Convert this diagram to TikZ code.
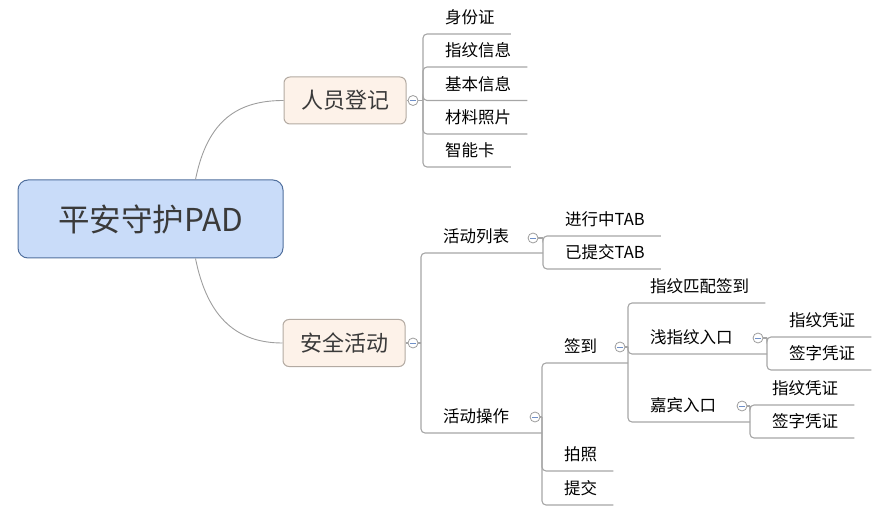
\documentclass[tikz,border=0pt]{standalone}
\usepackage{fontspec}
\setmainfont{Noto Sans CJK SC}
\definecolor{rootfill}{HTML}{C9DCF9}
\definecolor{rootdraw}{HTML}{51709E}
\definecolor{roottext}{HTML}{3A3A3A}
\definecolor{subfill}{HTML}{FDF2E9}
\definecolor{subdraw}{HTML}{B3AAA2}
\definecolor{linegray}{HTML}{A6A6A6}
\definecolor{curvegray}{HTML}{9E9E9E}
\definecolor{circgray}{HTML}{9C9C9C}
\definecolor{minusblue}{HTML}{7090C8}
\begin{document}
\begin{tikzpicture}[
  x=1pt, y=-1pt,
  tline/.style={draw=linegray, line width=1.1pt, rounded corners=4pt},
  curveline/.style={draw=curvegray, line width=0.9pt},
  leaf/.style={anchor=south west, inner xsep=0pt, inner ysep=0pt,
    minimum height=30pt, text height=13pt, text depth=3pt,
    font=\fontsize{16.5}{16.5}\selectfont, text=black,
    execute at begin node={\hspace*{22pt}},
    execute at end node={\hspace*{16pt}}},
  mainbox/.style={draw=rootdraw, fill=rootfill, line width=1pt,
    rounded corners=10pt, minimum width=265pt, minimum height=78pt,
    font=\fontsize{31.5}{31.5}\selectfont, text=roottext},
  subbox/.style={draw=subdraw, fill=subfill, line width=1pt,
    rounded corners=6pt, minimum width=122pt, minimum height=47pt,
    font=\fontsize{22}{22}\selectfont, text=roottext},
  coll/.style={circle, draw=circgray, fill=white, line width=0.8pt,
    minimum size=10pt, inner sep=0pt,
    path picture={\draw[minusblue, line width=0.8pt]
      ([xshift=-2.6pt]path picture bounding box.center) --
      ([xshift=2.6pt]path picture bounding box.center);}}
]
\useasboundingbox (0,0) rectangle (883,510);

% main nodes
\node[mainbox] (root) at (150.5,219) {平安守护PAD};
\node[subbox] (ry) at (345,100.5) {人员登记};
\node[subbox] (aq) at (344,343) {安全活动};

\draw[curveline] ([xshift=45pt]root.north) .. controls +(12,-60) and +(-45,0) .. (ry.west);
\draw[curveline] ([xshift=45pt]root.south) .. controls +(12,60) and +(-45,0) .. (aq.west);

% collapse buttons
\node[coll] (k1) at (413,100.5) {};
\node[coll] (k2) at (413,343) {};
\node[coll] (k3) at (533,238) {};
\node[coll] (k4) at (535,417) {};
\node[coll] (k5) at (620,347) {};
\node[coll] (k6) at (758,338) {};
\node[coll] (k7) at (742,406) {};

% junctions
\coordinate (j1) at (423,100.5);
\coordinate (j2) at (421,343);
\coordinate (j3) at (543,238);
\coordinate (j4) at (542,417);
\coordinate (j5) at (628,347);
\coordinate (j6) at (767,338);
\coordinate (j7) at (750,406);

% 人员登记 children
\node[leaf] (a1) at (423,34) {身份证};
\node[leaf] (a2) at (423,67) {指纹信息};
\node[leaf] (a3) at (423,100.5) {基本信息};
\node[leaf] (a4) at (423,134) {材料照片};
\node[leaf] (a5) at (423,167) {智能卡};

% 安全活动 children
\node[leaf] (b1) at (421,253) {活动列表};
\node[leaf] (b2) at (421,433) {活动操作};

% 活动列表 children
\node[leaf] (c1) at (543,236) {进行中TAB};
\node[leaf] (c2) at (543,269) {已提交TAB};

% 活动操作 children
\node[leaf] (d1) at (542,363) {签到};
\node[leaf] (d2) at (542,471) {拍照};
\node[leaf] (d3) at (542,505) {提交};

% 签到 children
\node[leaf] (e1) at (628,303) {指纹匹配签到};
\node[leaf] (e2) at (628,354) {浅指纹入口};
\node[leaf] (e3) at (628,422) {嘉宾入口};

% 浅指纹入口 children
\node[leaf] (f1) at (767,337) {指纹凭证};
\node[leaf] (f2) at (767,370) {签字凭证};

% 嘉宾入口 children
\node[leaf] (g1) at (750,405) {指纹凭证};
\node[leaf] (g2) at (750,438) {签字凭证};

% connectors
\draw[tline] (ry.east) -- (k1.west);
\draw[tline] (aq.east) -- (k2.west);

\draw[tline] (k1.east) -- (j1);
\foreach \n in {a1,a2,a3,a4,a5} \draw[tline] (j1) |- (\n.south east);

\draw[tline] (k2.east) -- (j2);
\draw[tline] (j2) |- (b1.south west -| j3);
\draw[tline] (j2) |- (b2.south west -| j4);

\draw[tline] (k3.east) -- (j3);
\draw[tline] (j3) |- (c1.south east);
\draw[tline] (j3) |- (c2.south east);

\draw[tline] (k4.east) -- (j4);
\draw[tline] (j4) |- (d1.south west -| j5);
\draw[tline] (j4) |- (d2.south east);
\draw[tline] (j4) |- (d3.south east);

\draw[tline] (k5.east) -- (j5);
\draw[tline] (j5) |- (e1.south east);
\draw[tline] (j5) |- (e2.south west -| j6);
\draw[tline] (j5) |- (e3.south west -| j7);

\draw[tline] (k6.east) -- (j6);
\draw[tline] (j6) |- (f1.south east);
\draw[tline] (j6) |- (f2.south east);

\draw[tline] (k7.east) -- (j7);
\draw[tline] (j7) |- (g1.south east);
\draw[tline] (j7) |- (g2.south east);
\end{tikzpicture}
\end{document}
